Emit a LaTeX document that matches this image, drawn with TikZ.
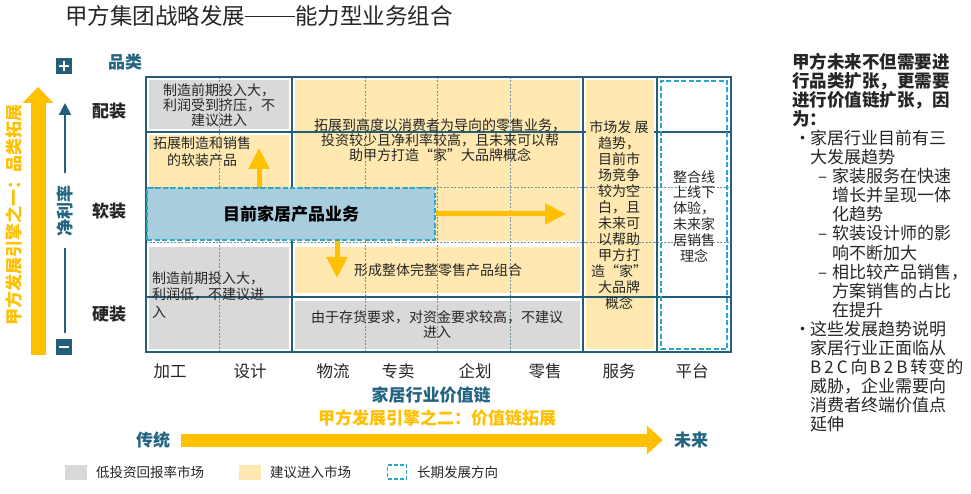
\documentclass[tikz,border=0pt]{standalone}
\usepackage{fontspec}
\setmainfont{Noto Sans CJK SC}
\usetikzlibrary{arrows.meta}
\definecolor{framec}{HTML}{245E78}
\definecolor{tealtx}{HTML}{236482}
\definecolor{grayc}{HTML}{D9D9D9}
\definecolor{yelc}{HTML}{FFE9B0}
\definecolor{bluec}{HTML}{A8CDDD}
\definecolor{cyanc}{HTML}{2AA6C8}
\definecolor{orng}{HTML}{FFC000}
\definecolor{gridc}{HTML}{6F8F9E}
\definecolor{txtc}{HTML}{262626}
\tikzset{
  lbl/.style={inner sep=0pt, text=txtc},
  cell/.style={lbl, align=center, font=\fontsize{14}{15}\selectfont},
  gridd/.style={draw=gridc, line width=0.6pt, dash pattern=on 2pt off 1.5pt},
  solidl/.style={draw=framec, line width=2pt},
  dashbox/.style={draw=cyanc, line width=1.8pt, dash pattern=on 5pt off 2.5pt},
  yarrow/.style={draw=orng, line width=5pt, -{Triangle[width=20pt,length=21pt]}},
  rowlbl/.style={lbl, font=\fontsize{17}{17}\selectfont\bfseries},
  collbl/.style={lbl, font=\fontsize{16.5}{16.5}\selectfont},
  rt/.style={lbl, anchor=base west, font=\fontsize{17}{19}\selectfont},
  rtb/.style={lbl, anchor=base west, font=\fontsize{17.5}{19}\selectfont\bfseries},
  legtx/.style={lbl, anchor=west, font=\fontsize{13.5}{13.5}\selectfont},
}
\begin{document}
\begin{tikzpicture}[x=1pt,y=-1pt]
\useasboundingbox (0,0) rectangle (971,494);
\fill[white] (0,0) rectangle (971,494);

% title
\node[lbl, anchor=west, font=\fontsize{22.5}{22.5}\selectfont] (title) at (65,16) {甲方集团战略发展\rule[0.33em]{50pt}{0.065em}能力型业务组合};

% cell fills
\fill[grayc] (149,80) rectangle (289,129);
\fill[yelc] (149,135) rectangle (289,188);
\fill[yelc] (295,80) rectangle (580,241);
\fill[yelc] (295,247) rectangle (580,293);
\fill[grayc] (149,247) rectangle (289,349);
\fill[grayc] (295,301) rectangle (580,349);

% grid dashed lines
\foreach \gx in {219,365,437,510} \draw[gridd] (\gx,77) -- (\gx,352);
\foreach \gy in {187,242} \draw[gridd] (146,\gy) -- (731,\gy);

% solid lines
\draw[solidl] (146,132) -- (731,132);
\fill[yelc] (586,80) rectangle (654,349);
\draw[gridd] (586,187) -- (654,187) (586,242) -- (654,242);
\draw[solidl] (292,77) -- (292,352) (583,77) -- (583,352) (657,77) -- (657,352);
\draw[solidl] (146,297) -- (731,297);
\draw[draw=framec, line width=2.6pt] (146,77) rectangle (731,352);

% long-term box (platform) and current business box
\node[dashbox, minimum width=66pt, minimum height=268pt, inner sep=0pt] (plat) at (694,215) {};
\node[dashbox, fill=bluec, minimum width=288pt, minimum height=52pt, inner sep=0pt, text=black, font=\fontsize{17}{17}\selectfont\bfseries] (cur) at (291,214) {目前家居产品业务};

% arrows from current business
\coordinate (upend) at (259,148);
\coordinate (rtend) at (566,214);
\coordinate (dnend) at (337,278);
\draw[yarrow] (cur.north -| upend) -- (upend);
\draw[yarrow] (cur.east) -- (rtend);
\draw[yarrow] (cur.south -| dnend) -- (dnend);

% cell texts
\node[cell] (t1) at (219,105) {制造前期投入大，\\利润受到挤压，不\\建议进入};
\node[cell, font=\fontsize{14}{16.5}\selectfont] (t2) at (202,151.5) {拓展制造和销售\\的软装产品};
\node[cell] (t3) at (440,140) {拓展到高度以消费者为导向的零售业务，\\投资较少且净利率较高，且未来可以帮\\助甲方打造“家”大品牌概念};
\node[cell] (t4) at (438,270) {形成整体完整零售产品组合};
\node[lbl, anchor=west, font=\fontsize{14}{15}\selectfont] (t5a) at (152,278) {制造前期投入大，};
\node[lbl, anchor=west, font=\fontsize{14}{15}\selectfont] (t5b) at (152,294) {利润低，不建议进};
\node[lbl, anchor=west, font=\fontsize{14}{15}\selectfont] (t5c) at (152,312) {入};
\node[cell] (t6) at (437,325) {由于存货要求，对资金要求较高，不建议\\进入};
\node[cell, font=\fontsize{14}{16}\selectfont] (t7) at (619,215) {市场发 展\\趋势，\\目前市\\场竞争\\较为空\\白，且\\未来可\\以帮助\\甲方打\\造“家”\\大品牌\\概念};
\node[cell, font=\fontsize{14}{15.8}\selectfont] (t8) at (694,216) {整合线\\上线下\\体验，\\未来家\\居销售\\理念};

% left axis
\node[rowlbl, text=tealtx] (cat) at (125,62) {品类};
\node[rowlbl] (pz) at (109,111) {配装};
\node[rowlbl] (rz) at (109,211) {软装};
\node[rowlbl] (yz) at (109,314) {硬装};
\node[fill=framec, minimum size=16pt, inner sep=0pt] (plus) at (64,66) {};
\draw[white, line width=2.2pt] ([xshift=-5pt]plus.center) -- ([xshift=5pt]plus.center)
  ([yshift=-5pt]plus.center) -- ([yshift=5pt]plus.center);
\node[fill=framec, minimum size=16pt, inner sep=0pt] (minus) at (64,347) {};
\draw[white, line width=2.2pt] ([xshift=-5pt]minus.center) -- ([xshift=5pt]minus.center);
\node[rowlbl, text=tealtx, rotate=90] (jl) at (65,211) {净利率};
\coordinate (netop) at (65,103);
\coordinate (netbot) at (65,333);
\draw[framec, line width=2pt, -{Triangle[width=12pt,length=12pt]}] ([yshift=12pt]jl.east) -- (netop);
\draw[framec, line width=2pt] ([yshift=-11pt]jl.west) -- (netbot);
\coordinate (e1bot) at (38,355);
\coordinate (e1top) at (38,87);
\draw[orng, line width=15pt, -{Triangle[width=30pt,length=16pt]}] (e1bot) -- (e1top);
\node[rowlbl, text=orng, rotate=90] (eng1) at (14,215) {甲方发展引擎之一：品类拓展};

% column labels
\node[collbl] (c1) at (170,371) {加工};
\node[collbl] (c2) at (250,371) {设计};
\node[collbl] (c3) at (333,371) {物流};
\node[collbl] (c4) at (398,371) {专卖};
\node[collbl] (c5) at (475,371) {企划};
\node[collbl] (c6) at (545,371) {零售};
\node[collbl] (c7) at (619,371) {服务};
\node[collbl] (c8) at (692,371) {平台};

% bottom axis
\node[rowlbl, text=tealtx] (vc) at (431,395) {家居行业价值链};
\node[rowlbl, text=orng] (eng2) at (437,418) {甲方发展引擎之二：价值链拓展};
\node[rowlbl, text=tealtx] (tr) at (153,440) {传统};
\node[rowlbl, text=tealtx] (wl) at (691,440) {未来};
\draw[orng, line width=13pt, -{Triangle[width=28pt,length=16pt]}] ([xshift=11pt]tr.east) -- ([xshift=-11pt]wl.west);

% legend
\node[fill=grayc, minimum width=22pt, minimum height=15pt, inner sep=0pt] (lg1) at (76,472) {};
\node[legtx] (lt1) at (96,472) {低投资回报率市场};
\node[fill=yelc, minimum width=22pt, minimum height=15pt, inner sep=0pt] (lg2) at (250,472) {};
\node[legtx] (lt2) at (270,472) {建议进入市场};
\node[draw=cyanc, line width=1.5pt, dash pattern=on 4pt off 2pt, minimum width=19pt, minimum height=14pt, inner sep=0pt] (lg3) at (397,472) {};
\node[legtx] (lt3) at (417,472) {长期发展方向};

% right text
\node[rtb] (r1) at (792,69) {甲方未来不但需要进};
\node[rtb] (r2) at (792,88) {行品类扩张，更需要};
\node[rtb] (r3) at (792,107) {进行价值链扩张，因};
\node[rtb] (r4) at (792,126) {为：};
\node[rt] (b1) at (794,145) {•};
\node[rt] (r5) at (810,145) {家居行业目前有三};
\node[rt] (r6) at (810,164) {大发展趋势};
\node[rt] (d1) at (818,183) {–};
\node[rt] (r7) at (832,183) {家装服务在快速};
\node[rt] (r8) at (832,202) {增长并呈现一体};
\node[rt] (r9) at (832,221) {化趋势};
\node[rt] (d2) at (818,240) {–};
\node[rt] (r10) at (832,240) {软装设计师的影};
\node[rt] (r11) at (832,259) {响不断加大};
\node[rt] (d3) at (818,278) {–};
\node[rt] (r12) at (832,278) {相比较产品销售，};
\node[rt] (r13) at (832,297) {方案销售的占比};
\node[rt] (r14) at (832,316) {在提升};
\node[rt] (b2) at (794,335) {•};
\node[rt] (r15) at (810,335) {这些发展趋势说明};
\node[rt] (r16) at (810,354) {家居行业正面临从};
\node[rt] (r17) at (810,373) {B\kern3pt 2\kern3pt C\kern3pt 向\kern2pt B\kern3pt 2\kern3pt B\kern3pt 转\kern1pt 变\kern1pt 的};
\node[rt] (r18) at (810,392) {威胁，企业需要向};
\node[rt] (r19) at (810,411) {消费者终端价值点};
\node[rt] (r20) at (810,430) {延伸};
\end{tikzpicture}
\end{document}
